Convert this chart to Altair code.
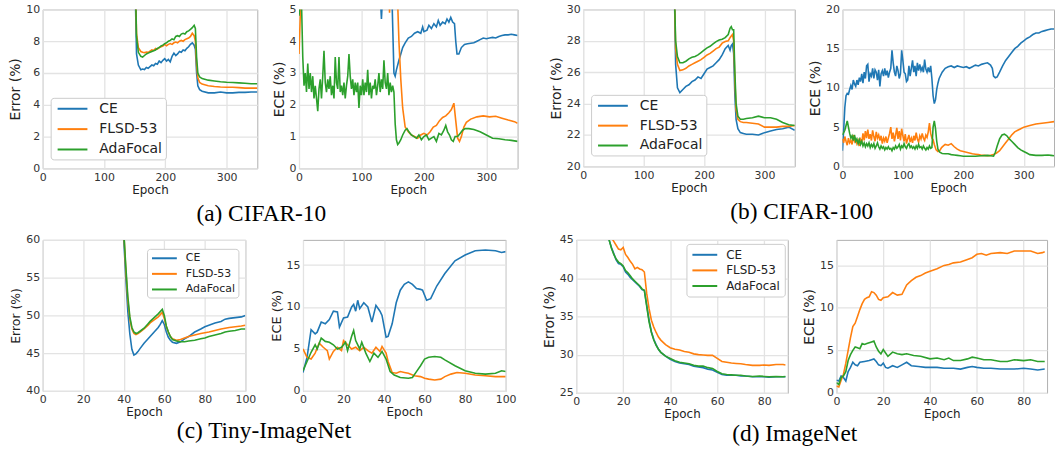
import altair as alt
import pandas as pd

METHODS = ["CE", "FLSD-53", "AdaFocal"]
COLORS = ["#1f77b4", "#ff7f0e", "#2ca02c"]

# ---------------- CIFAR-10 ----------------
C10_ERR_CE = [(148, 14), (151, 11), (153, 7.2), (156, 6.5), (160, 6.2), (163, 6.25), (166, 6.22), (169, 6.35),
              (172, 6.3), (175, 6.4), (178, 6.5), (181, 6.45), (184, 6.6), (187, 6.55), (190, 6.75), (193, 6.65),
              (196, 6.8), (199, 6.9), (202, 6.75), (205, 6.85), (208, 6.7), (211, 7.05), (214, 7.25), (217, 7.1),
              (220, 7.2), (223, 7.35), (226, 7.3), (229, 7.45), (232, 7.4), (235, 7.55), (238, 7.65), (241, 7.8),
              (244, 7.9), (247, 7.75), (249, 7.5), (251, 6.0), (253, 5.2), (256, 4.95), (260, 4.85), (270, 4.75),
              (280, 4.75), (290, 4.8), (300, 4.75), (310, 4.75), (320, 4.78), (330, 4.78), (340, 4.8), (350, 4.8)]
C10_ERR_FLSD = [(148, 14), (151, 12), (153, 8.5), (156, 7.6), (160, 7.35), (163, 7.3), (166, 7.28), (169, 7.32),
                (172, 7.3), (175, 7.38), (178, 7.45), (181, 7.42), (184, 7.55), (187, 7.5), (190, 7.6), (193, 7.65),
                (196, 7.7), (199, 7.8), (202, 7.72), (205, 7.8), (208, 7.85), (211, 7.8), (214, 7.9), (217, 7.95),
                (220, 7.9), (223, 8.0), (226, 8.05), (229, 8.0), (232, 8.1), (235, 8.15), (238, 8.2), (241, 8.3),
                (244, 8.5), (247, 8.35), (249, 8.0), (251, 6.5), (253, 5.7), (256, 5.4), (260, 5.3), (270, 5.2),
                (280, 5.15), (290, 5.12), (300, 5.1), (310, 5.1), (320, 5.08), (330, 5.05), (340, 5.05), (350, 5.05)]
C10_ERR_ADA = [(148, 14), (151, 12), (153, 8.3), (156, 7.3), (160, 7.05), (163, 7.0), (166, 7.1), (169, 7.2),
               (172, 7.25), (175, 7.3), (178, 7.35), (181, 7.4), (184, 7.45), (187, 7.55), (190, 7.6), (193, 7.7),
               (196, 7.75), (199, 7.85), (202, 7.9), (205, 8.0), (208, 8.05), (211, 8.15), (214, 8.1), (217, 8.3),
               (220, 8.35), (223, 8.3), (226, 8.45), (229, 8.5), (232, 8.45), (235, 8.6), (238, 8.65), (241, 8.75),
               (244, 8.85), (247, 9.0), (249, 8.8), (251, 7.0), (253, 6.0), (256, 5.75), (260, 5.65), (270, 5.55),
               (280, 5.5), (290, 5.45), (300, 5.42), (310, 5.4), (320, 5.38), (330, 5.35), (340, 5.32), (350, 5.32)]

C10_ECE_CE = [(125, 6), (130, 5.5), (132, 4.7), (134, 5.5), (148, 6), (150, 4.5), (152, 3.0), (154, 2.9),
              (156, 3.1), (160, 3.4), (163, 3.6), (166, 3.8), (170, 3.95), (175, 4.1), (180, 4.15), (185, 4.25),
              (190, 4.3), (195, 4.25), (198, 4.45), (200, 4.3), (205, 4.35), (208, 4.5), (212, 4.4), (216, 4.55),
              (220, 4.45), (223, 4.65), (226, 4.5), (230, 4.6), (234, 4.55), (237, 4.7), (240, 4.6), (243, 4.75),
              (246, 4.6), (249, 4.55), (251, 4.0), (253, 3.6), (256, 3.6), (260, 3.8), (265, 3.9), (270, 3.92),
              (280, 3.95), (285, 4.0), (290, 4.05), (295, 4.1), (300, 4.08), (305, 4.1), (310, 4.12), (315, 4.1),
              (320, 4.15), (325, 4.18), (330, 4.2), (335, 4.2), (340, 4.22), (345, 4.2), (350, 4.18)]
C10_ECE_FLSD = [(0, 3.6), (2, 4.8), (4, 6), (142, 6), (144, 5.5), (145, 4.9), (146, 5.5), (155, 6), (158, 5.2),
                (160, 4.0), (163, 2.8), (166, 1.9), (170, 1.3), (175, 1.15), (180, 1.05), (185, 1.0), (190, 0.95),
                (195, 1.05), (200, 1.1), (205, 1.05), (210, 1.15), (215, 1.3), (220, 1.35), (225, 1.5), (230, 1.6),
                (235, 1.65), (240, 1.75), (244, 1.85), (248, 2.05), (251, 1.5), (254, 0.95), (257, 0.85), (260, 1.0),
                (264, 1.3), (268, 1.45), (275, 1.55), (285, 1.62), (295, 1.65), (305, 1.62), (315, 1.64), (325, 1.58),
                (335, 1.52), (345, 1.47), (350, 1.42)]
C10_ECE_ADA = [(0, 4.8), (2, 5.3), (4, 5.2), (6, 3.5), (8, 2.6), (10, 3.0), (12, 2.4), (14, 3.3), (16, 2.5),
               (18, 3.0), (20, 2.4), (22, 2.9), (24, 2.2), (26, 2.6), (28, 2.2), (30, 1.8), (32, 2.5), (34, 2.8),
               (36, 2.2), (38, 2.9), (40, 3.7), (42, 2.7), (44, 2.4), (46, 2.8), (48, 2.5), (50, 2.9), (52, 2.3),
               (54, 2.6), (56, 2.2), (58, 3.5), (60, 2.7), (62, 2.5), (64, 3.5), (66, 2.4), (68, 2.6), (70, 2.3),
               (72, 2.7), (74, 2.2), (76, 2.6), (78, 2.9), (80, 3.6), (82, 2.9), (84, 2.5), (86, 2.8), (88, 2.3),
               (90, 2.7), (92, 2.4), (94, 2.7), (96, 1.9), (98, 2.6), (100, 2.3), (102, 2.8), (104, 2.3), (106, 2.7),
               (108, 2.4), (110, 3.1), (112, 2.3), (114, 2.7), (116, 2.2), (118, 2.6), (120, 2.5), (122, 2.8),
               (124, 2.3), (126, 2.6), (128, 3.0), (130, 2.4), (132, 2.8), (134, 2.5), (136, 3.4), (138, 2.7),
               (140, 2.5), (142, 3.0), (144, 2.3), (146, 2.7), (148, 2.4), (150, 2.6), (152, 2.4), (154, 1.4),
               (156, 0.9), (158, 0.75), (160, 0.8), (163, 0.9), (166, 1.05), (170, 1.2), (173, 1.25), (176, 1.15),
               (180, 1.05), (184, 1.0), (188, 0.95), (192, 1.05), (196, 0.9), (200, 1.0), (204, 1.05), (208, 0.9),
               (212, 0.95), (216, 1.0), (220, 0.85), (224, 1.1), (228, 1.05), (232, 1.2), (235, 1.35), (238, 1.15),
               (241, 1.05), (244, 0.9), (247, 0.85), (250, 1.0), (254, 1.0), (258, 1.1), (262, 1.2), (266, 1.25),
               (272, 1.25), (280, 1.22), (290, 1.15), (300, 1.05), (310, 0.95), (320, 0.93), (330, 0.9),
               (340, 0.88), (350, 0.85)]

# ---------------- CIFAR-100 ----------------
C100_ERR_CE = [(148, 34), (151, 31), (153, 26.5), (156, 25), (160, 24.7), (165, 24.9), (170, 25.1), (175, 25.2),
               (180, 25.4), (185, 25.5), (190, 25.7), (195, 25.6), (200, 25.9), (205, 26.2), (210, 26.3),
               (215, 26.4), (220, 26.6), (225, 26.8), (230, 27.1), (235, 27.5), (240, 27.7), (243, 27.4),
               (245, 27.7), (247, 27.8), (249, 27.2), (251, 24.5), (253, 23.0), (256, 22.4), (260, 22.15),
               (265, 22.1), (270, 22.05), (280, 22.05), (290, 22.0), (300, 22.15), (310, 22.25), (320, 22.35),
               (330, 22.4), (340, 22.5), (350, 22.3)]
C100_ERR_FLSD = [(148, 34), (151, 31), (153, 27.5), (156, 26.5), (160, 26.1), (165, 26.15), (170, 26.25),
                 (175, 26.4), (180, 26.5), (185, 26.6), (190, 26.7), (195, 26.8), (200, 26.95), (205, 27.1),
                 (210, 27.2), (215, 27.35), (220, 27.5), (225, 27.6), (230, 27.85), (235, 27.95), (240, 28.0),
                 (243, 28.2), (245, 28.3), (247, 28.4), (249, 28.0), (251, 25.5), (253, 23.6), (256, 23.0),
                 (260, 22.85), (265, 22.8), (270, 22.8), (280, 22.75), (290, 22.7), (300, 22.5), (310, 22.5),
                 (320, 22.5), (330, 22.55), (340, 22.55), (350, 22.6)]
C100_ERR_ADA = [(148, 34), (151, 31), (153, 28), (156, 27), (160, 26.6), (165, 26.6), (170, 26.7), (175, 26.85),
                (180, 26.95), (185, 27.0), (190, 27.1), (195, 27.25), (200, 27.4), (205, 27.55), (210, 27.65),
                (215, 27.8), (220, 27.95), (225, 28.05), (230, 28.1), (235, 28.2), (240, 28.4), (243, 28.8),
                (245, 28.9), (247, 28.7), (249, 28.7), (251, 26), (253, 24), (256, 23.2), (260, 23.0), (265, 23.0),
                (270, 23.05), (280, 23.1), (290, 23.2), (300, 23.1), (310, 23.1), (320, 23.0), (330, 22.8),
                (340, 22.65), (350, 22.6)]

C100_ECE_CE = [(0, 2.0), (2, 4.5), (4, 7.5), (6, 9.0), (8, 9.3), (10, 9.2), (12, 9.8), (14, 10.3), (16, 9.8),
               (18, 11.0), (20, 10.5), (22, 10.2), (24, 11.0), (26, 10.4), (28, 11.3), (30, 10.8), (32, 11.8),
               (34, 10.6), (36, 12.0), (38, 11.2), (40, 12.8), (42, 13.0), (44, 10.8), (46, 11.8), (48, 11.5),
               (50, 12.5), (52, 11.2), (54, 12.3), (56, 12.0), (58, 11.0), (60, 12.3), (62, 10.2), (64, 11.8),
               (66, 12.2), (68, 11.5), (70, 12.5), (72, 11.6), (74, 12.2), (76, 11.3), (78, 12.0), (80, 12.5),
               (82, 14.8), (84, 13.2), (86, 12.0), (88, 11.5), (90, 12.8), (92, 12.2), (94, 11.2), (96, 11.8),
               (98, 14.8), (100, 13.5), (102, 12.0), (104, 11.8), (106, 10.8), (108, 11.0), (110, 12.8),
               (112, 11.5), (114, 12.5), (116, 13.5), (118, 12.0), (120, 12.8), (122, 11.5), (124, 13.2),
               (126, 12.2), (128, 13.0), (130, 12.2), (132, 12.6), (134, 12.0), (136, 13.6), (138, 12.4),
               (140, 12.0), (142, 12.6), (144, 12.0), (146, 12.8), (148, 11.2), (150, 9.0), (152, 8.0), (154, 8.5),
               (156, 9.8), (158, 10.6), (160, 11.2), (165, 12.0), (170, 12.5), (175, 12.7), (180, 12.8),
               (185, 12.6), (190, 12.8), (195, 12.7), (200, 12.6), (205, 12.7), (210, 12.5), (215, 12.7),
               (220, 12.9), (225, 12.8), (230, 13.0), (235, 13.1), (240, 13.2), (245, 12.9), (248, 12.5),
               (250, 11.5), (253, 11.3), (256, 11.4), (260, 12.0), (265, 12.8), (270, 13.5), (275, 14.0),
               (280, 14.5), (285, 15.0), (290, 15.3), (295, 15.7), (300, 16.0), (305, 16.3), (310, 16.5),
               (315, 16.8), (320, 17.0), (325, 17.0), (330, 17.2), (335, 17.3), (340, 17.4), (345, 17.5),
               (350, 17.5)]
C100_ECE_FLSD = [(0, 3.5), (2, 3.0), (4, 3.8), (6, 3.2), (8, 2.7), (10, 3.6), (12, 3.0), (14, 3.3), (16, 2.8),
                 (18, 4.0), (20, 3.2), (22, 3.5), (24, 2.9), (26, 3.3), (28, 2.6), (30, 3.4), (32, 3.0), (34, 4.2),
                 (36, 3.3), (38, 4.5), (40, 3.6), (42, 4.7), (44, 3.5), (46, 4.1), (48, 3.3), (50, 4.6), (52, 3.8),
                 (54, 3.2), (56, 4.4), (58, 3.6), (60, 4.0), (62, 3.3), (64, 3.9), (66, 2.9), (68, 3.6), (70, 3.2),
                 (72, 3.8), (74, 3.0), (76, 3.6), (78, 4.2), (80, 5.0), (82, 3.5), (84, 4.3), (86, 3.2), (88, 4.0),
                 (90, 4.9), (92, 3.5), (94, 4.5), (96, 3.3), (98, 4.8), (100, 3.9), (102, 3.2), (104, 4.1),
                 (106, 2.9), (108, 3.5), (110, 4.0), (112, 3.1), (114, 3.6), (116, 3.0), (118, 3.9), (120, 3.3),
                 (122, 4.3), (124, 3.5), (126, 3.1), (128, 3.9), (130, 3.5), (132, 4.2), (134, 3.6), (136, 3.3),
                 (138, 4.0), (140, 3.7), (142, 4.4), (144, 5.5), (146, 4.2), (148, 3.6), (150, 3.4), (152, 2.8),
                 (155, 2.1), (158, 1.9), (161, 2.0), (164, 2.4), (167, 2.6), (170, 2.8), (175, 2.7), (180, 2.9),
                 (185, 2.5), (190, 2.2), (195, 2.0), (200, 1.9), (205, 1.8), (210, 1.7), (215, 1.6), (220, 1.55),
                 (225, 1.5), (230, 1.4), (235, 1.4), (240, 1.35), (245, 1.4), (250, 1.5), (255, 1.7), (260, 2.0),
                 (265, 2.5), (270, 3.0), (275, 3.5), (280, 4.0), (285, 4.4), (290, 4.6), (295, 4.8), (300, 5.0),
                 (310, 5.2), (320, 5.4), (330, 5.5), (340, 5.6), (350, 5.7)]
C100_ECE_ADA = [(0, 4.0), (2, 4.3), (4, 4.6), (6, 5.2), (8, 5.8), (10, 5.0), (12, 4.2), (14, 3.6), (16, 3.9),
                (18, 3.3), (20, 4.0), (22, 3.2), (24, 3.5), (26, 2.9), (28, 3.4), (30, 2.8), (32, 3.2), (34, 2.6),
                (36, 3.0), (38, 2.5), (40, 2.9), (42, 2.6), (44, 3.0), (46, 2.4), (48, 2.8), (50, 2.5), (52, 2.9),
                (54, 2.3), (56, 2.6), (58, 3.0), (60, 2.5), (62, 2.2), (64, 2.6), (66, 2.3), (68, 2.5), (70, 2.1),
                (72, 2.4), (74, 2.2), (76, 2.5), (78, 2.2), (80, 2.3), (82, 2.0), (84, 2.4), (86, 2.2), (88, 2.6),
                (90, 2.3), (92, 2.5), (94, 2.8), (96, 2.2), (98, 2.6), (100, 2.4), (102, 2.9), (104, 2.5),
                (106, 2.3), (108, 2.7), (110, 2.9), (112, 2.4), (114, 2.6), (116, 2.3), (118, 2.5), (120, 2.2),
                (122, 2.6), (124, 2.3), (126, 2.8), (128, 2.4), (130, 2.5), (132, 2.2), (134, 2.6), (136, 2.3),
                (138, 2.1), (140, 2.4), (142, 2.2), (144, 2.6), (146, 2.3), (148, 2.4), (150, 5.0), (152, 5.8),
                (154, 4.8), (156, 3.2), (158, 2.2), (161, 1.8), (165, 1.65), (170, 1.6), (175, 1.6), (180, 1.5),
                (185, 1.45), (190, 1.4), (195, 1.35), (200, 1.3), (210, 1.3), (220, 1.3), (230, 1.35), (240, 1.4),
                (245, 1.35), (250, 1.3), (253, 1.8), (256, 2.6), (260, 3.5), (264, 4.0), (268, 4.1), (272, 3.9),
                (276, 3.5), (280, 3.2), (285, 2.8), (290, 2.4), (295, 2.1), (300, 1.9), (305, 1.7), (310, 1.5),
                (320, 1.4), (330, 1.4), (340, 1.45), (345, 1.4), (350, 1.35)]

# ---------------- Tiny-ImageNet ----------------
TIN_ERR_CE = [(38, 66), (40, 60), (41, 55), (42, 50.5), (43, 47.5), (44, 45.5), (45, 44.75), (46, 44.9),
              (47, 45.2), (48, 45.6), (50, 46.3), (52, 46.9), (53, 47.2), (55, 47.8), (57, 48.4), (58, 48.8),
              (59, 49.3), (60, 48.8), (61, 47.8), (62, 47.1), (63, 46.7), (64, 46.45), (66, 46.3), (68, 46.5),
              (70, 46.9), (72, 47.2), (75, 47.8), (78, 48.2), (80, 48.5), (82, 48.7), (85, 49.0), (88, 49.2),
              (90, 49.5), (92, 49.6), (95, 49.7), (98, 49.8), (100, 50.0)]
TIN_ERR_FLSD = [(38, 66), (40, 61), (41, 56), (42, 52), (43, 49.5), (44, 48.2), (45, 47.6), (46, 47.45),
                (47, 47.6), (48, 47.8), (50, 48.2), (52, 48.7), (53, 49.0), (55, 49.4), (57, 49.8), (58, 50.1),
                (59, 50.4), (60, 49.6), (61, 48.5), (62, 47.8), (63, 47.2), (64, 46.9), (66, 46.7), (68, 46.8),
                (70, 47.0), (72, 47.2), (75, 47.4), (78, 47.6), (80, 47.7), (82, 47.8), (85, 48.0), (88, 48.2),
                (90, 48.3), (92, 48.4), (95, 48.5), (98, 48.6), (100, 48.7)]
TIN_ERR_ADA = [(38, 66), (40, 61), (41, 56.5), (42, 52.5), (43, 49.8), (44, 48.4), (45, 47.8), (46, 47.6),
               (47, 47.7), (48, 47.9), (50, 48.3), (52, 48.9), (53, 49.2), (55, 49.7), (57, 50.2), (58, 50.5),
               (59, 50.8), (60, 50.0), (61, 48.6), (62, 47.8), (63, 47.2), (64, 46.8), (66, 46.6), (68, 46.5),
               (70, 46.5), (72, 46.6), (75, 46.7), (78, 46.9), (80, 47.0), (82, 47.2), (85, 47.4), (88, 47.6),
               (90, 47.8), (92, 47.9), (95, 48.0), (98, 48.2), (100, 48.2)]

TIN_ECE_CE = [(0, 2.2), (2, 4), (4, 7.3), (6, 6.8), (7, 7), (9, 8.2), (11, 8), (13, 8.5), (15, 9.5), (17, 9.4),
              (18, 7.6), (20, 8.7), (22, 8.8), (24, 10), (25, 10.3), (26, 9.5), (27, 10.8), (28, 9.8), (30, 10.5),
              (32, 10), (34, 8.2), (36, 10.2), (38, 9.5), (39, 9), (41, 6.4), (42, 6.5), (44, 8), (46, 10.5),
              (48, 12), (50, 12.7), (52, 13), (54, 12.7), (56, 12.2), (58, 12.1), (59, 12.0), (61, 10.8), (63, 11),
              (66, 12.5), (70, 14), (75, 15.5), (80, 16.2), (85, 16.7), (90, 16.8), (95, 16.7), (98, 16.5),
              (100, 16.6)]
TIN_ECE_FLSD = [(0, 5), (2, 4), (4, 3.8), (6, 4.5), (8, 5.7), (10, 5.2), (12, 4.8), (13, 3.8), (15, 4.7),
                (17, 5.2), (19, 4.8), (20, 6), (22, 5.5), (24, 5), (26, 5.2), (28, 4.8), (30, 5.2), (32, 4.8),
                (34, 4.5), (36, 5.2), (38, 4.7), (39, 5.3), (41, 4.5), (42, 3.5), (44, 2.2), (46, 2.1), (48, 2.3),
                (50, 2.2), (52, 2.1), (55, 1.8), (58, 1.7), (60, 1.5), (62, 1.4), (65, 1.3), (68, 1.4), (70, 1.7),
                (73, 2.0), (76, 2.2), (80, 2.1), (85, 1.9), (90, 1.8), (95, 1.7), (100, 1.7)]
TIN_ECE_ADA = [(0, 2.4), (2, 3.5), (4, 4.6), (6, 5.5), (7, 5), (9, 6.3), (11, 5.9), (13, 5.8), (15, 5.5),
               (17, 5), (19, 5.2), (21, 5.8), (22, 4.8), (24, 6.5), (25, 7.2), (26, 6), (28, 5), (29, 5.8),
               (31, 4.5), (33, 3.5), (35, 4.5), (37, 4), (39, 4.7), (41, 3.8), (43, 2.3), (45, 1.9), (48, 1.6),
               (52, 1.5), (54, 1.6), (56, 2.3), (58, 3.0), (60, 3.8), (62, 4.0), (65, 4.1), (68, 4.0), (70, 3.7),
               (75, 3.0), (80, 2.4), (85, 2.1), (90, 2.0), (95, 2.1), (98, 2.4), (100, 2.3)]

# ---------------- ImageNet ----------------
IN_ERR_CE = [(10, 50), (12, 47), (14, 45), (15, 44), (16, 43.2), (17, 42.4), (18, 41.9), (19, 41.8), (20, 41.5),
             (21, 40.8), (22, 40.5), (23, 40.1), (24, 39.8), (25, 39.5), (26, 39.2), (27, 38.9), (28, 38.5),
             (29, 38.4), (30, 36.5), (31, 34.5), (32, 33.0), (33, 32.0), (34, 31.3), (35, 30.7), (36, 30.3),
             (38, 29.8), (40, 29.4), (42, 29.1), (44, 28.9), (46, 28.8), (48, 28.7), (50, 28.5), (52, 28.4),
             (54, 28.3), (56, 28.1), (58, 28.0), (60, 27.7), (62, 27.4), (64, 27.3), (66, 27.3), (68, 27.3),
             (70, 27.2), (72, 27.2), (75, 27.1), (78, 27.1), (80, 27.1), (82, 27.05), (85, 27.1), (88, 27.1),
             (89, 27.1)]
IN_ERR_FLSD = [(10, 52), (12, 48), (14, 46), (15, 45.3), (16, 44.8), (17, 44.3), (18, 43.8), (19, 43.7),
               (20, 44.0), (21, 43.1), (22, 42.7), (23, 42.2), (24, 41.8), (25, 41.2), (26, 41.4), (27, 41.2),
               (28, 41.1), (29, 40.8), (30, 38.0), (31, 36.0), (32, 34.5), (33, 33.6), (34, 32.9), (35, 32.3),
               (36, 31.9), (38, 31.3), (40, 30.9), (42, 30.7), (44, 30.6), (46, 30.4), (48, 30.3), (50, 30.1),
               (52, 30.0), (54, 29.95), (56, 29.9), (58, 29.9), (60, 29.5), (62, 29.1), (64, 29.0), (66, 28.9),
               (68, 28.85), (70, 28.8), (72, 28.7), (75, 28.6), (78, 28.6), (80, 28.65), (82, 28.6), (85, 28.7),
               (88, 28.7), (89, 28.65)]
IN_ERR_ADA = [(10, 50), (12, 47), (14, 45), (15, 43.9), (16, 43.1), (17, 42.5), (18, 42.1), (19, 41.9),
              (20, 41.6), (21, 41.0), (22, 40.7), (23, 40.3), (24, 39.9), (25, 39.6), (26, 39.3), (27, 39.0),
              (28, 38.6), (29, 38.4), (30, 36.3), (31, 34.3), (32, 32.9), (33, 31.9), (34, 31.2), (35, 30.7),
              (36, 30.3), (38, 29.8), (40, 29.5), (42, 29.2), (44, 29.0), (46, 28.9), (48, 28.8), (50, 28.6),
              (52, 28.5), (54, 28.5), (56, 28.3), (58, 28.2), (60, 27.8), (62, 27.5), (64, 27.4), (66, 27.35),
              (68, 27.3), (70, 27.3), (72, 27.2), (75, 27.15), (78, 27.2), (80, 27.15), (82, 27.1), (85, 27.15),
              (88, 27.1), (89, 27.15)]

IN_ECE_CE = [(0, 1.5), (1, 1.4), (2, 2.0), (3, 1.8), (4, 1.4), (5, 2.5), (6, 3.0), (7, 3.6), (8, 3.3), (9, 3.2),
             (10, 3.6), (12, 3.7), (14, 3.8), (15, 3.9), (16, 4.0), (17, 3.7), (18, 3.3), (19, 3.2), (20, 3.5),
             (21, 3.0), (22, 2.9), (24, 3.2), (26, 3.0), (28, 3.3), (30, 3.6), (32, 3.2), (35, 3.1), (38, 3.0),
             (40, 3.0), (43, 3.0), (46, 2.9), (50, 2.9), (53, 2.8), (56, 3.0), (58, 3.1), (60, 3.0), (63, 2.9),
             (66, 2.9), (70, 2.8), (73, 2.8), (76, 2.8), (80, 2.9), (83, 2.8), (86, 2.7), (89, 2.8)]
IN_ECE_FLSD = [(0, 0.8), (1, 0.7), (2, 1.5), (3, 2.2), (4, 3.5), (5, 5), (6, 6.5), (7, 7.8), (8, 8.2), (9, 9),
               (10, 9.8), (11, 10.5), (12, 11), (13, 11.2), (14, 11.3), (15, 11.9), (16, 11.8), (17, 11.5),
               (18, 11), (19, 10.9), (20, 11.2), (22, 11.3), (24, 11.8), (26, 11.5), (28, 11.6), (30, 12.7),
               (32, 13.2), (34, 13.6), (36, 13.8), (38, 14.1), (40, 14.3), (43, 14.6), (46, 15), (48, 15.1),
               (50, 15.3), (53, 15.4), (56, 15.7), (58, 15.9), (60, 16.3), (62, 16.4), (64, 16.2), (66, 16.4),
               (70, 16.5), (73, 16.4), (76, 16.7), (80, 16.7), (83, 16.7), (86, 16.4), (88, 16.5), (89, 16.6)]
IN_ECE_ADA = [(0, 1.2), (1, 1.0), (2, 1.8), (3, 2), (4, 2.5), (5, 3.8), (6, 4.5), (7, 5), (8, 5.4), (9, 5.3),
              (10, 5.2), (11, 5.8), (12, 5.7), (13, 5.8), (14, 5.9), (15, 6), (16, 6.1), (17, 5.4), (18, 4.9),
              (19, 4.6), (20, 5.1), (21, 4.7), (22, 4.3), (24, 4.8), (26, 4.6), (28, 4.5), (30, 4.6), (33, 4.4),
              (36, 4.3), (40, 4), (43, 4.1), (46, 3.9), (48, 4.1), (50, 3.8), (53, 3.8), (56, 4.0), (58, 4.2),
              (60, 4.1), (63, 3.9), (66, 3.9), (70, 3.7), (73, 3.7), (76, 3.9), (80, 3.8), (83, 3.9), (86, 3.7),
              (89, 3.7)]

CIFAR_X_TICKS = [0, 100, 200, 300]
TIN_X_TICKS = [0, 20, 40, 60, 80, 100]
IN_X_TICKS = [0, 20, 40, 60, 80]


def to_frame(series):
    rows = []
    for name, pts in zip(METHODS, series):
        for epoch, value in pts:
            rows.append({"epoch": epoch, "value": value, "method": name})
    return pd.DataFrame(rows)


def legend_box(x, y, font_size, sym_px, line_px, row_pad, pad, label_offset, sym_offset):
    # a horizontal line swatch: starts at the symbol's left edge and runs line_px to the right
    right = line_px / (sym_px / 2.0) - 1.0
    return alt.Legend(title=None, orient="none", legendX=x, legendY=y,
                      symbolType=f"M-1,0H{right:.3f}", symbolSize=sym_px * sym_px, symbolStrokeWidth=2,
                      symbolOffset=sym_offset,
                      labelFontSize=font_size, labelFont="DejaVu Sans", labelColor="#222222",
                      strokeColor="#cccccc", fillColor="white", cornerRadius=3,
                      padding=pad, rowPadding=row_pad, labelOffset=label_offset)


def panel(series, ytitle, ydom, yticks, xdom, xticks, w, h, ytitle_size=14, legend=None):
    df = to_frame(series)
    return alt.Chart(df).mark_line(strokeWidth=1.6, clip=True).encode(
        x=alt.X("epoch:Q", scale=alt.Scale(domain=xdom, nice=False, zero=False),
                axis=alt.Axis(values=xticks, title="Epoch", format="d")),
        y=alt.Y("value:Q", scale=alt.Scale(domain=ydom, nice=False, zero=False),
                axis=alt.Axis(values=yticks, title=ytitle, titleFontSize=ytitle_size, format="d")),
        color=alt.Color("method:N", sort=METHODS,
                        scale=alt.Scale(domain=METHODS, range=COLORS), legend=legend),
    ).properties(width=w, height=h)


def caption(text, dx=0, offset=6):
    return alt.TitleParams(text, orient="bottom", anchor="middle", font="Liberation Serif",
                           fontSize=23.5, fontWeight="normal", color="black", offset=offset, dx=dx)


def pair(left, right, spacing, title):
    return alt.hconcat(left, right, spacing=spacing, title=title).resolve_scale(
        color="independent").resolve_legend(color="independent")


a_err = panel([C10_ERR_CE, C10_ERR_FLSD, C10_ERR_ADA], "Error (%)", [0, 10], [0, 2, 4, 6, 8, 10],
              [0, 350], CIFAR_X_TICKS, 216, 160,
              legend=legend_box(8, 89, 14, 14, 30, 5.5, 3, 27, 3))
a_ece = panel([C10_ECE_CE, C10_ECE_FLSD, C10_ECE_ADA], "ECE (%)", [0, 5], [0, 1, 2, 3, 4, 5],
              [0, 350], CIFAR_X_TICKS, 220, 160)
b_err = panel([C100_ERR_CE, C100_ERR_FLSD, C100_ERR_ADA], "Error (%)", [20, 30], [20, 22, 24, 26, 28, 30],
              [0, 350], CIFAR_X_TICKS, 213, 158,
              legend=legend_box(8, 86, 14, 14, 30, 5, 3, 27, 3))
b_ece = panel([C100_ECE_CE, C100_ECE_FLSD, C100_ECE_ADA], "ECE (%)", [0, 20], [0, 5, 10, 15, 20],
              [0, 350], CIFAR_X_TICKS, 213, 158)
c_err = panel([TIN_ERR_CE, TIN_ERR_FLSD, TIN_ERR_ADA], "Error (%)", [40, 60], [40, 45, 50, 55, 60],
              [0, 100], TIN_X_TICKS, 204, 152, ytitle_size=12.5,
              legend=legend_box(105, 9, 11, 11, 25, 3.7, 3, 22, 1))
c_ece = panel([TIN_ECE_CE, TIN_ECE_FLSD, TIN_ECE_ADA], "ECE (%)", [0, 18], [0, 5, 10, 15],
              [0, 100], TIN_X_TICKS, 204, 152, ytitle_size=13)
d_err = panel([IN_ERR_CE, IN_ERR_FLSD, IN_ERR_ADA], "Error (%)", [25, 45], [25, 30, 35, 40, 45],
              [0, 90], IN_X_TICKS, 213, 154,
              legend=legend_box(111, 4, 12, 12, 25, 2.7, 4, 21, 1))
d_ece = panel([IN_ECE_CE, IN_ECE_FLSD, IN_ECE_ADA], "ECE (%)", [0, 18], [0, 5, 10, 15],
              [0, 90], IN_X_TICKS, 212, 154)

row1 = alt.hconcat(
    pair(a_err, a_ece, 13, caption("(a) CIFAR-10", dx=-2)),
    pair(b_err, b_ece, 12, caption("(b) CIFAR-100", dx=0)),
    spacing=30,
).resolve_scale(color="independent").resolve_legend(color="independent")

row2 = alt.hconcat(
    pair(c_err, c_ece, 13, caption("(c) Tiny-ImageNet", dx=1, offset=1)),
    pair(d_err, d_ece, 13, caption("(d) ImageNet", dx=0, offset=2)),
    spacing=25,
).resolve_scale(color="independent").resolve_legend(color="independent")

chart = alt.vconcat(row1, row2, spacing=8).resolve_scale(
    color="independent"
).resolve_legend(
    color="independent"
).properties(
    padding={"left": 8, "top": 1, "right": 0, "bottom": 0},
    background="white",
).configure_view(
    stroke="#b0b0b0", strokeWidth=1
).configure_axis(
    grid=True, gridColor="#e3e3e3", gridWidth=1.3, domain=False, ticks=False,
    labelFont="DejaVu Sans", labelFontSize=11, labelColor="#333333", labelPadding=3,
    labelFlush=False, labelOverlap=False,
    titleFont="DejaVu Sans", titleFontWeight="normal", titleColor="#222222", titlePadding=3,
).configure_axisX(titleFontSize=12, titlePadding=2)

chart.save("out.html", embed_options={"renderer": "svg", "actions": False})
